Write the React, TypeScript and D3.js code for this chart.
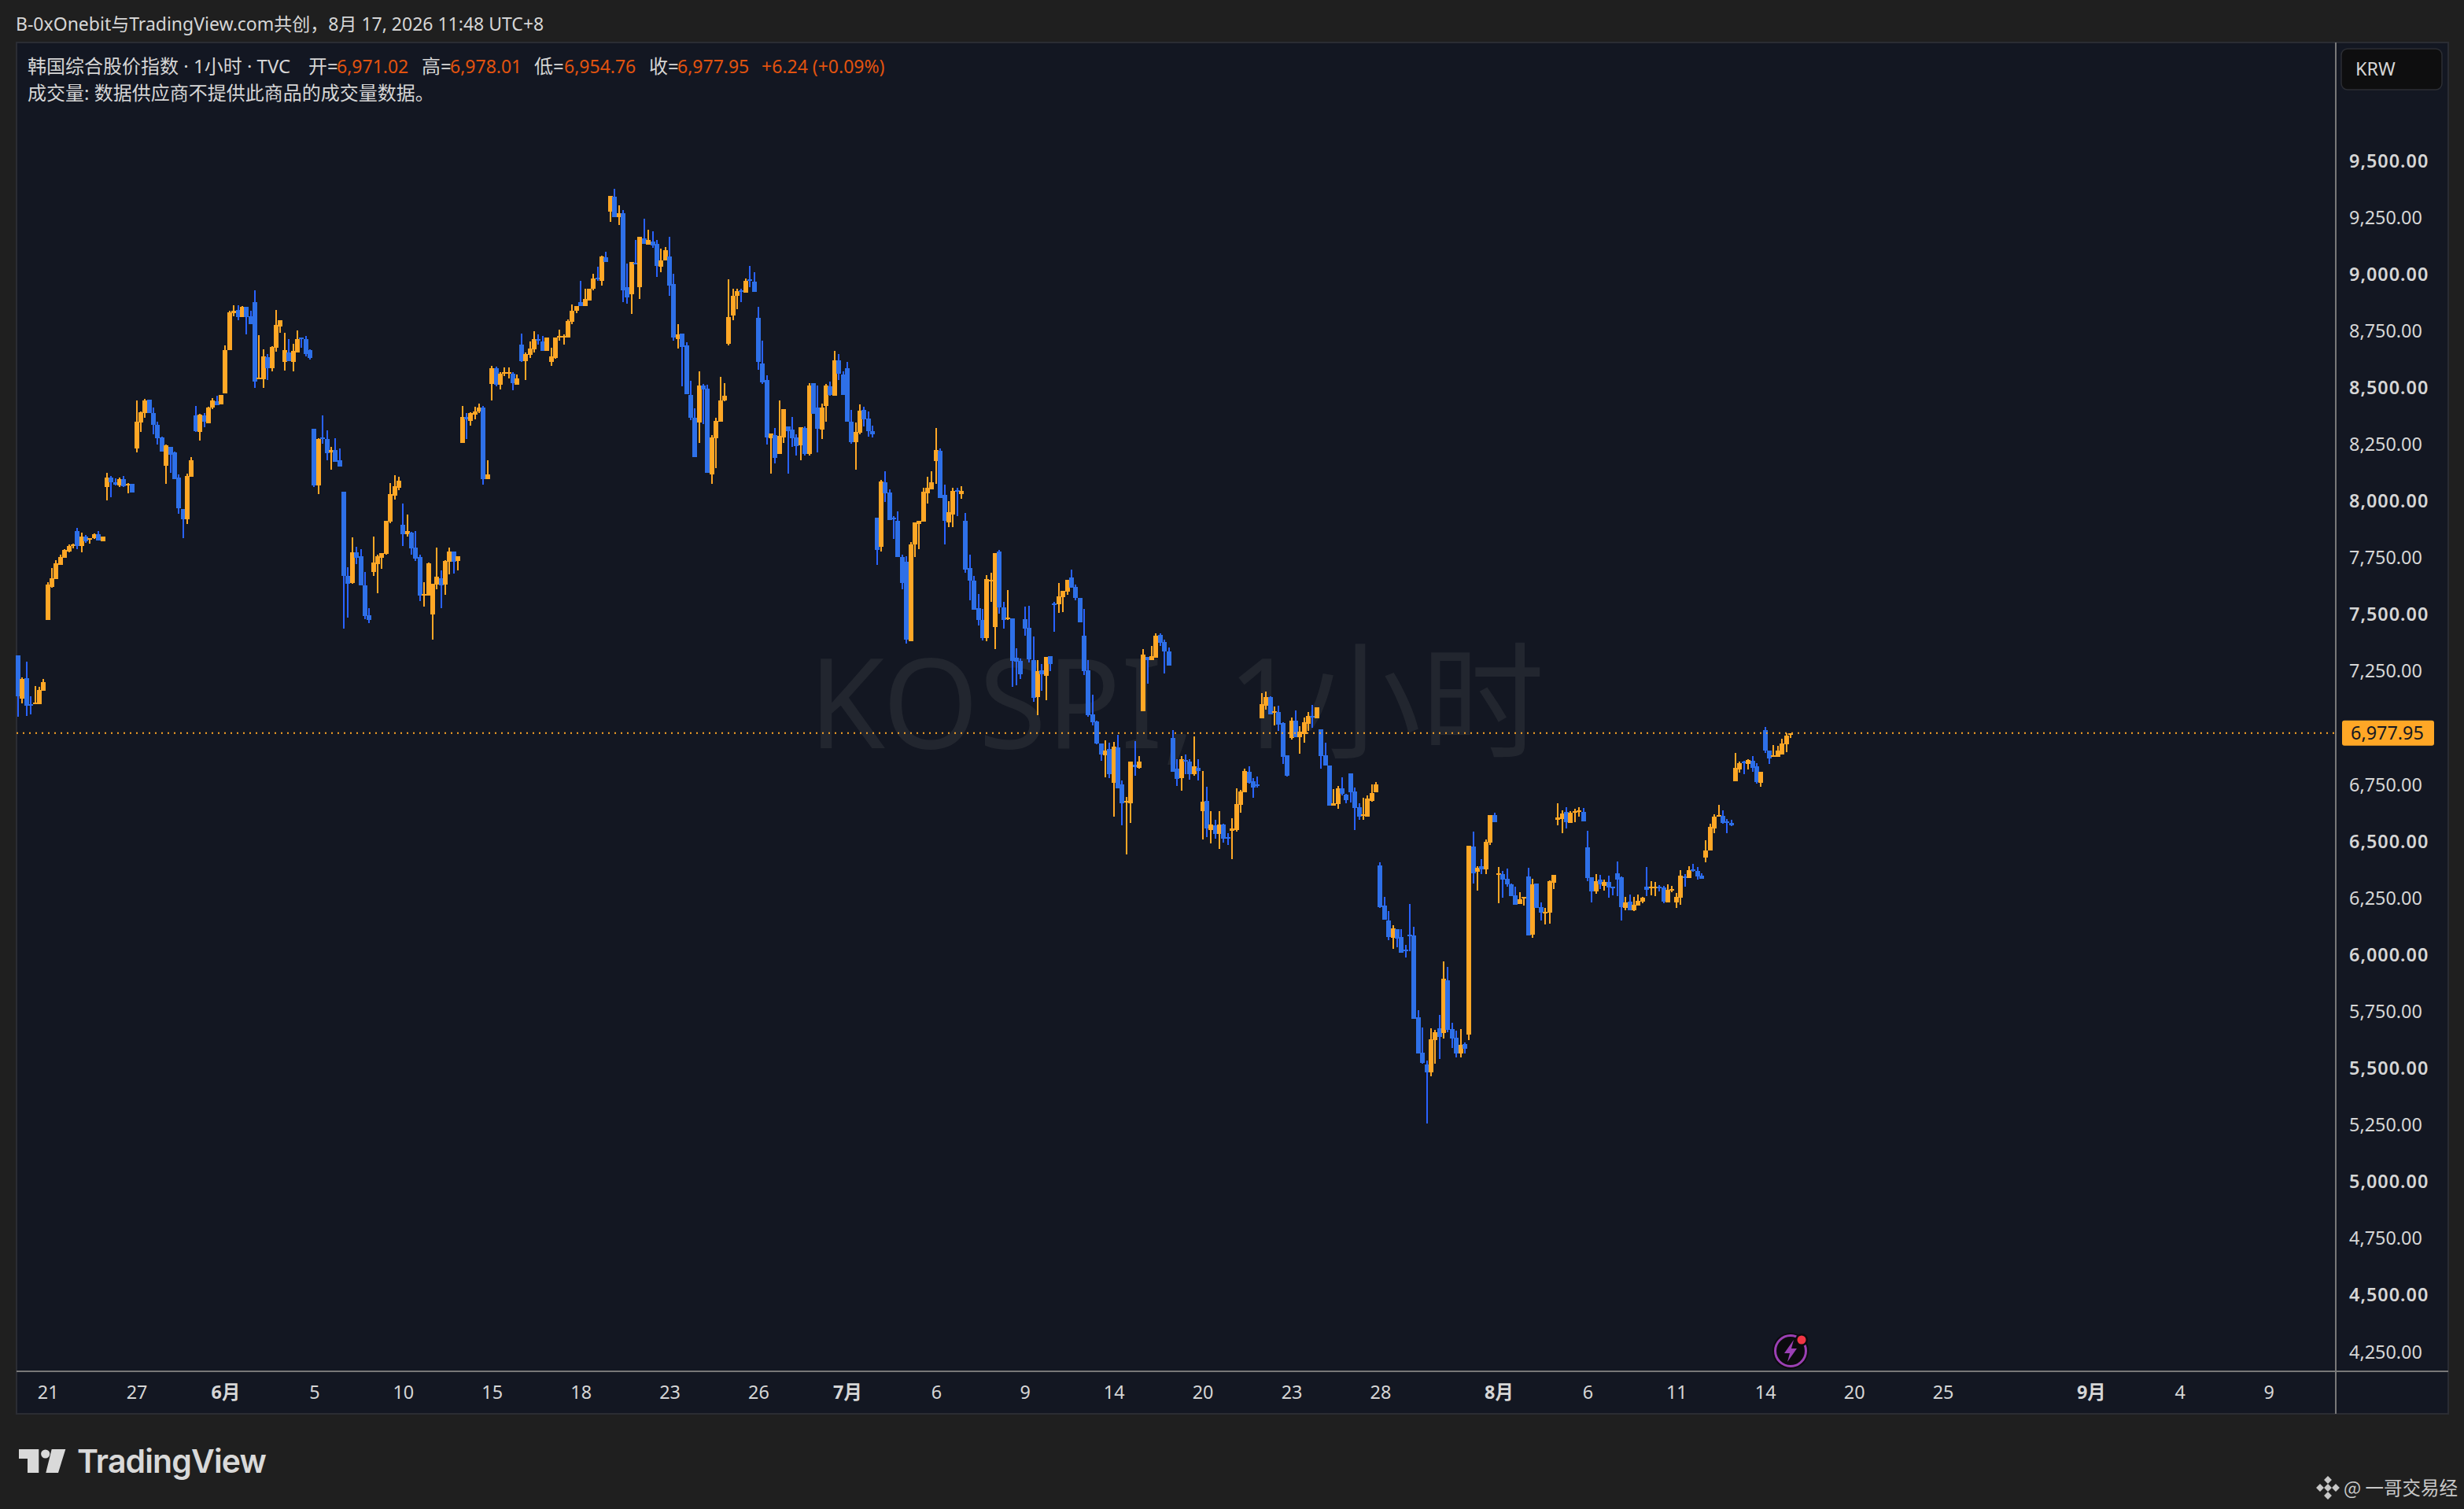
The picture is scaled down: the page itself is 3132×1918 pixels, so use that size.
import { useEffect, useRef } from "react";
import * as d3 from "d3";

// hourly KOSPI bars, one row per session (7 bars)
const opens = [
  7320,7129,7220,7107,7105,7105,7164, 7476,7624,7656,7720,7750,7778,7801,
  7868,7802,7845,7831,7837,7855,7823, 8062,8103,8084,8070,8097,8071,8076,
  8232,8346,8388,8447,8388,8338,8280, 8155,8241,8214,8103,7965,7920,8108,
  8377,8305,8377,8343,8412,8440,8426, 8474,8665,8830,8843,8811,8856,8814,
  8876,8539,8537,8634,8585,8676,8770, 8614,8655,8614,8655,8720,8714,8665,
  8318,8070,8280,8273,8214,8225,8179, 8041,7670,7638,7774,7758,7629,7497,
  7688,7723,7750,7767,7909,8023,8058, 7896,7855,7861,7796,7753,7584,7584,
  7500,7632,7661,7632,7732,7778,7737, 8256,8373,8353,8381,8394,8412,8097,
  8516,8585,8512,8563,8563,8561,8515, 8689,8616,8645,8668,8715,8703,8661,
  8614,8633,8723,8720,8723,8790,8838, 8879,8859,8886,8935,8986,8970,9074,
  9278,9341,9253,9268,8942,8911,9052, 8945,9160,9131,9146,9133,9033,9060,
  9077,8956,8714,8738,8686,8467,8367, 8346,8509,8496,8118,8276,8349,8444,
  8693,8818,8904,8929,8918,8977,8967, 8807,8607,8533,8276,8290,8208,8281,
  8329,8315,8281,8245,8322,8208,8519, 8412,8315,8419,8505,8464,8620,8557,
  8585,8349,8260,8301,8401,8363,8308, 7927,7798,8083,8038,7927,7913,7753,
  7733,7383,7811,7900,7909,8034,8052, 8176,8222,8027,7907,7941,8048,8031,
  7913,7705,7649,7528,7475,7397,7647, 7445,7778,7532,7481,7484,7310,7296,
  7480,7441,7300,7137,7255,7230,7317, 7550,7545,7577,7601,7663,7622,7574,
  7407,7255,7060,7030,6933,6881,6909, 6760,6916,6753,6676,6670,6839,6826,
  7074,7314,7300,7310,7411,7380,7338, 6958,6822,6781,6859,6854,6798,6826,
  6635,6680,6552,6573,6535,6576,6521, 6548,6552,6663,6718,6809,6767,6753,
  7044,7100,7138,7070,7071,7022,6881, 6958,7034,6961,6975,7020,7053,7044,
  6996,6881,6836,6659,6666,6736,6708, 6802,6722,6653,6614,6611,6680,6718,
  6395,6218,6153,6076,6115,6080,6025, 6089,6086,5726,5570,5518,5484,5626,
  5677,5657,5889,5675,5636,5567,5608, 5650,6479,6367,6391,6377,6495,6617,
  6354,6357,6336,6312,6263,6225,6249, 6347,6090,6316,6212,6184,6188,6318,
  6596,6600,6631,6582,6627,6630,6631, 6475,6343,6281,6332,6305,6322,6302,
  6361,6343,6208,6236,6198,6218,6236, 6302,6296,6296,6302,6298,6232,6284,
  6232,6253,6347,6340,6377,6371,6350, 6430,6461,6558,6609,6613,6589,6581,
  6766,6818,6851,6843,6855,6832,6759, 6991,6902,6873,6874,6884,6929,6971.02,
];

const highs = [
  7320,7223,7293,7140,7185,7182,7217, 7643,7705,7740,7764,7788,7809,7813,
  7882,7861,7850,7839,7858,7868,7844, 8124,8111,8100,8103,8111,8081,8076,
  8443,8394,8450,8447,8412,8350,8284, 8249,8241,8218,8117,7965,8120,8194,
  8420,8385,8388,8415,8453,8464,8470, 8688,8840,8865,8862,8859,8856,8838,
  8929,8731,8668,8650,8685,8844,8797, 8741,8714,8693,8752,8720,8727,8671,
  8318,8276,8377,8311,8238,8276,8232, 8041,7708,7841,7799,7788,7688,7529,
  7844,7764,7770,7914,8079,8114,8108, 7990,7941,7864,7868,7764,7643,7729,
  7635,7796,7694,7740,7796,7778,7758, 8420,8388,8391,8415,8429,8420,8179,
  8596,8592,8568,8589,8589,8568,8557, 8740,8657,8703,8748,8734,8727,8720,
  8675,8720,8755,8734,8800,8866,8859, 8970,8938,8935,9001,9033,9081,9099,
  9344,9378,9303,9285,9049,9053,9151, 9164,9246,9197,9188,9151,9112,9120,
  9167,9001,8779,8738,8701,8530,8408, 8571,8516,8512,8293,8367,8548,8519,
  8977,8935,8935,8938,8981,9036,9008, 8856,8709,8555,8297,8322,8444,8405,
  8329,8371,8294,8326,8331,8519,8519, 8509,8431,8516,8526,8661,8648,8571,
  8614,8401,8346,8426,8415,8394,8333, 7927,8093,8131,8052,7934,7955,7764,
  7757,7819,7907,7913,8059,8109,8131, 8322,8231,8072,8000,8059,8059,8065,
  7948,7764,7671,7590,7524,7674,7684, 7771,7785,7556,7608,7484,7351,7307,
  7536,7538,7404,7300,7282,7314,7317, 7556,7640,7604,7654,7699,7633,7574,
  7525,7300,7147,7033,6933,6947,6937, 6940,6972,6770,6698,6854,6944,6878,
  7348,7314,7362,7418,7418,7389,7355, 6992,6864,6878,6885,6864,6965,6864,
  6812,6743,6635,6597,6635,6580,6538, 6604,6736,6729,6822,6833,6781,6788,
  7155,7162,7141,7096,7100,7026,6881, 7048,7079,7010,7048,7072,7103,7093,
  6996,6937,6836,6732,6746,6784,6711, 6802,6739,6670,6694,6704,6753,6763,
  6409,6257,6194,6131,6115,6115,6045, 6225,6125,5757,5681,5535,5677,5670,
  5736,5971,5948,5702,5667,5675,5616, 6481,6544,6391,6424,6509,6617,6627,
  6388,6371,6381,6316,6302,6277,6257, 6385,6336,6316,6232,6208,6330,6353,
  6668,6638,6652,6634,6645,6652,6648, 6548,6343,6357,6353,6332,6350,6302,
  6412,6347,6257,6267,6257,6267,6257, 6388,6326,6322,6308,6305,6312,6305,
  6273,6375,6357,6391,6402,6388,6361, 6506,6579,6621,6662,6638,6599,6596,
  6890,6853,6856,6863,6877,6845,6808, 7006,6902,6926,6922,6953,6976,6978.01,
];

const lows = [
  7050,7109,7054,7059,7105,7105,7164, 7476,7618,7656,7720,7750,7774,7791,
  7788,7774,7817,7812,7834,7826,7823, 8003,8017,8070,8062,8062,8035,8038,
  8214,8305,8367,8388,8294,8249,8218, 8076,8124,8097,7944,7837,7899,8108,
  8305,8267,8326,8343,8405,8423,8426, 8474,8665,8816,8797,8811,8735,8779,
  8499,8539,8499,8533,8571,8658,8741, 8575,8617,8571,8655,8676,8638,8623,
  8062,8031,8253,8182,8138,8173,8152, 7438,7487,7635,7723,7629,7479,7462,
  7670,7594,7702,7764,7904,8006,8049, 7802,7844,7764,7737,7559,7535,7584,
  7390,7611,7529,7588,7678,7681,7694, 8256,8273,8332,8361,8388,8073,8097,
  8445,8505,8492,8550,8540,8489,8512, 8613,8533,8630,8656,8689,8664,8661,
  8598,8627,8709,8689,8723,8779,8829, 8859,8859,8886,8929,8972,8952,9053,
  9230,9253,9216,8877,8870,8825,9046, 8893,9134,9129,9116,8990,9011,9060,
  8904,8707,8672,8505,8471,8357,8194, 8256,8340,8124,8077,8145,8349,8440,
  8686,8797,8845,8877,8918,8942,8922, 8578,8516,8249,8120,8166,8208,8256,
  8120,8238,8201,8179,8201,8201,8385, 8215,8274,8349,8464,8464,8533,8467,
  8349,8253,8138,8294,8328,8283,8281, 7719,7778,7996,7916,7834,7753,7612,
  7372,7383,7753,7789,7909,7989,8052, 8077,8013,7809,7885,7885,7934,8011,
  7685,7563,7522,7453,7386,7383,7556, 7348,7504,7438,7477,7182,7189,7216,
  7407,7289,7116,7058,7164,7123,7251, 7425,7508,7511,7588,7618,7563,7466,
  7234,7051,7012,6929,6857,6784,6781, 6611,6736,6573,6444,6583,6791,6822,
  7074,7196,7300,7310,7363,7241,7275, 6809,6746,6725,6798,6774,6791,6770,
  6510,6521,6493,6514,6469,6497,6486, 6424,6545,6628,6718,6756,6694,6739,
  7044,7082,7062,7013,6989,6843,6788, 6951,6961,6888,6937,6989,7003,7044,
  6822,6836,6659,6659,6646,6704,6670, 6673,6552,6597,6597,6611,6677,6718,
  6208,6156,6066,6027,6035,6011,5990, 6017,5717,5567,5522,5258,5466,5522,
  5543,5632,5661,5591,5548,5550,5567, 5626,6316,6284,6357,6357,6485,6586,
  6229,6253,6302,6259,6222,6225,6218, 6086,6076,6208,6153,6135,6139,6291,
  6572,6538,6558,6582,6586,6611,6589, 6326,6232,6271,6291,6284,6253,6263,
  6259,6153,6198,6198,6194,6218,6229, 6259,6263,6259,6281,6229,6232,6277,
  6208,6222,6302,6340,6367,6332,6336, 6409,6461,6538,6608,6579,6538,6568,
  6766,6804,6796,6818,6809,6756,6741, 6891,6843,6873,6874,6884,6894,6954.76,
];

const closes = [
  7140,7217,7099,7102,7112,7169,7201, 7632,7659,7726,7753,7785,7802,7809,
  7802,7844,7825,7839,7855,7826,7844, 8103,8082,8074,8097,8065,8076,8038,
  8350,8391,8443,8388,8338,8276,8218, 8246,8205,8097,7968,7920,8111,8179,
  8308,8381,8350,8412,8443,8424,8470, 8665,8832,8840,8811,8856,8811,8779,
  8526,8545,8638,8585,8679,8776,8797, 8665,8617,8661,8714,8714,8650,8630,
  8070,8273,8273,8211,8225,8173,8152, 7670,7635,7774,7750,7629,7494,7476,
  7729,7758,7770,7914,8031,8065,8090, 7855,7868,7791,7747,7584,7591,7726,
  7635,7667,7629,7737,7778,7732,7758, 8373,8362,8388,8397,8412,8097,8117,
  8585,8512,8561,8568,8568,8519,8540, 8616,8650,8672,8714,8711,8664,8720,
  8637,8720,8729,8727,8793,8838,8859, 8859,8893,8935,8981,8982,9077,9053,
  9344,9253,9271,8929,8900,9053,9046, 9164,9134,9151,9126,9036,9062,9108,
  8952,8720,8734,8679,8471,8367,8194, 8509,8492,8124,8281,8353,8444,8464,
  8811,8904,8925,8923,8970,8971,8922, 8614,8523,8281,8297,8190,8287,8405,
  8308,8276,8242,8326,8208,8509,8385, 8319,8413,8509,8467,8620,8561,8467,
  8349,8260,8304,8398,8360,8308,8294, 7785,8086,8034,7916,7923,7753,7639,
  7390,7811,7907,7913,8041,8059,8083, 8224,8013,7913,7952,8045,8044,8045,
  7698,7649,7522,7475,7397,7657,7652, 7771,7532,7477,7486,7296,7292,7237,
  7438,7303,7133,7251,7237,7314,7282, 7545,7581,7604,7654,7618,7574,7466,
  7251,7058,7026,6933,6885,6902,6798, 6920,6736,6670,6680,6854,6829,6854,
  7323,7300,7317,7407,7377,7338,7275, 6809,6777,6864,6854,6798,6833,6812,
  6677,6559,6576,6535,6576,6514,6514, 6556,6666,6722,6812,6759,6739,6747,
  7107,7138,7062,7075,7017,6874,6791, 7034,6961,6985,7027,7055,7049,7093,
  6878,6836,6659,6668,6736,6711,6684, 6718,6649,6611,6621,6691,6715,6753,
  6212,6156,6080,6118,6072,6011,6018, 6085,5717,5567,5525,5484,5629,5661,
  5640,5897,5670,5632,5567,5604,5588, 6481,6361,6386,6376,6499,6617,6586,
  6360,6332,6312,6259,6222,6246,6257, 6086,6312,6208,6187,6190,6326,6353,
  6606,6624,6586,6627,6634,6636,6589, 6340,6281,6326,6312,6322,6298,6298,
  6332,6212,6232,6198,6222,6239,6253, 6288,6302,6302,6298,6236,6288,6291,
  6257,6350,6342,6375,6371,6347,6336, 6461,6564,6609,6616,6582,6584,6571,
  6825,6846,6846,6859,6826,6762,6808, 6902,6867,6880,6902,6932,6967,6977.95,
];

const lastPrice = 6977.95;
const priceTicks = d3.range(4250, 9501, 250).filter((p) => p !== 7000);

const timeTickBars = [7, 28, 49, 70, 91, 112, 133, 154, 175, 196, 217, 238, 259, 280, 301, 322, 350, 371, 392, 413, 434, 455, 490, 511, 532];
const timeTickLabels = ["21", "27", "6月", "5", "10", "15", "18", "23", "26", "7月", "6", "9", "14", "20", "23", "28", "8月", "6", "11", "14", "20", "25", "9月", "4", "9"];

const legendHead = "韩国综合股价指数 · 1小时 · TVC";
const legendOhlc = [
  { key: "开=", keyX: 392, value: "6,971.02", valueX: 428 },
  { key: "高=", keyX: 536, value: "6,978.01", valueX: 572 },
  { key: "低=", keyX: 679, value: "6,954.76", valueX: 717 },
  { key: "收=", keyX: 825, value: "6,977.95", valueX: 861 },
];
const legendChange = "+6.24 (+0.09%)";
const volumeNote = "成交量: 数据供应商不提供此商品的成交量数据。";
const shareTitle = "B-0xOnebit与TradingView.com共创，8月 17, 2026 11:48 UTC+8";

const UP = "#ffa726";
const DOWN_BODY = "#2e70e8";
const DOWN_WICK = "#2962ff";
const TEXT = "#d6d6d6";
const FONT = "'Noto Sans', 'Noto Sans CJK SC', sans-serif";
const CJK = "'Noto Sans CJK SC', 'Noto Sans', sans-serif";

const WIDTH = 3132;
const HEIGHT = 1918;
const pane = { left: 21, top: 54, right: 3112, bottom: 1797, axisX: 2969, axisY: 1743 };

export default function App() {
  const svgRef = useRef<SVGSVGElement>(null);

  useEffect(() => {
    if (!svgRef.current) return;
    const svg = d3.select(svgRef.current);
    svg.selectAll("*").remove();

    const x = d3.scaleLinear().domain([0, 419]).range([23, 2276]);
    const y = d3.scaleLinear().domain([4250, 9500]).range([1718.5, 204.5]);

    svg.append("rect").attr("width", WIDTH).attr("height", HEIGHT).attr("fill", "#1f1f1f");

    // Pane
    svg
      .append("rect")
      .attr("x", pane.left)
      .attr("y", pane.top)
      .attr("width", pane.right - pane.left)
      .attr("height", pane.bottom - pane.top)
      .attr("fill", "#131722")
      .attr("stroke", "#2a2c33")
      .attr("stroke-width", 2);

    // Watermark
    svg
      .append("text")
      .attr("x", 1028)
      .attr("y", 951)
      .attr("font-family", FONT)
      .attr("font-size", 160)
      .attr("textLength", 935)
      .attr("lengthAdjust", "spacingAndGlyphs")
      .attr("fill", "#22262f")
      .text("KOSPI, 1小时");

    // Candles
    closes.forEach((close, i) => {
      const open = opens[i];
      const up = close >= open;
      const cx = Math.round(x(i));
      const top = Math.round(y(Math.max(open, close)));
      const bottom = Math.round(y(Math.min(open, close)));
      const wickTop = Math.round(y(highs[i]));
      const wickBottom = Math.round(y(lows[i]));
      svg
        .append("rect")
        .attr("x", cx - 1)
        .attr("y", wickTop)
        .attr("width", 2)
        .attr("height", Math.max(wickBottom - wickTop, 2))
        .attr("fill", up ? UP : DOWN_WICK);
      svg
        .append("rect")
        .attr("x", cx - 3)
        .attr("y", top)
        .attr("width", 6)
        .attr("height", Math.max(bottom - top, 2))
        .attr("fill", up ? UP : DOWN_BODY);
    });

    // Last price line
    svg
      .append("line")
      .attr("x1", pane.left)
      .attr("x2", pane.axisX)
      .attr("y1", y(lastPrice))
      .attr("y2", y(lastPrice))
      .attr("stroke", UP)
      .attr("stroke-width", 2)
      .attr("stroke-dasharray", "2,6");

    // Axis lines
    svg
      .append("line")
      .attr("x1", pane.left)
      .attr("x2", pane.right)
      .attr("y1", pane.axisY)
      .attr("y2", pane.axisY)
      .attr("stroke", "#787878")
      .attr("stroke-width", 2);
    svg
      .append("line")
      .attr("x1", pane.axisX)
      .attr("x2", pane.axisX)
      .attr("y1", pane.top)
      .attr("y2", pane.bottom)
      .attr("stroke", "#787878")
      .attr("stroke-width", 2);

    // Price axis
    const yAxis = svg
      .append("g")
      .attr("transform", `translate(${pane.axisX},0)`)
      .call(
        d3
          .axisRight(y)
          .tickValues(priceTicks)
          .tickSize(0)
          .tickPadding(17)
          .tickFormat((d) => d3.format(",.2f")(d as number))
      );
    yAxis.select(".domain").remove();
    yAxis
      .selectAll<SVGTextElement, number>("text")
      .attr("fill", TEXT)
      .attr("font-family", FONT)
      .attr("font-size", 23.4)
      .attr("font-weight", (d) => (d % 500 === 0 ? 600 : 400))
      .attr("letter-spacing", (d) => (d % 500 === 0 ? 1 : 0));

    // Time axis
    const xAxis = svg
      .append("g")
      .attr("transform", `translate(0,${pane.axisY})`)
      .call(
        d3
          .axisBottom(x)
          .tickValues(timeTickBars)
          .tickSize(0)
          .tickPadding(18)
          .tickFormat((_, i) => timeTickLabels[i])
      );
    xAxis.select(".domain").remove();
    xAxis
      .selectAll<SVGTextElement, number>("text")
      .attr("fill", TEXT)
      .attr("font-family", FONT)
      .attr("font-size", 23.4)
      .attr("font-weight", (_, i) => (timeTickLabels[i].includes("月") ? 700 : 400));

    // Last price label
    svg
      .append("rect")
      .attr("x", 2977)
      .attr("y", y(lastPrice) - 16)
      .attr("width", 117)
      .attr("height", 32)
      .attr("rx", 3)
      .attr("fill", UP);
    svg
      .append("text")
      .attr("x", 2988)
      .attr("y", y(lastPrice))
      .attr("dy", "0.34em")
      .attr("font-family", FONT)
      .attr("font-size", 23.4)
      .attr("fill", "#131722")
      .text(d3.format(",.2f")(lastPrice));

    // Currency button
    svg
      .append("rect")
      .attr("x", 2976)
      .attr("y", 62)
      .attr("width", 128)
      .attr("height", 52)
      .attr("rx", 8)
      .attr("fill", "#0e0e0f")
      .attr("stroke", "#2c2e34")
      .attr("stroke-width", 1.5);
    svg
      .append("text")
      .attr("x", 2994)
      .attr("y", 88)
      .attr("dy", "0.35em")
      .attr("font-family", FONT)
      .attr("font-size", 23.4)
      .attr("fill", TEXT)
      .text("KRW");

    // Header and legend
    const label = (tx: number, ty: number, str: string, fill = TEXT, size = 24) =>
      svg
        .append("text")
        .attr("x", tx)
        .attr("y", ty)
        .attr("dy", "0.35em")
        .attr("font-family", FONT)
        .attr("font-size", size)
        .attr("fill", fill)
        .text(str);

    label(20, 31, shareTitle, TEXT, 23);
    label(35, 85, legendHead);
    legendOhlc.forEach((d) => {
      label(d.keyX, 85, d.key);
      label(d.valueX, 85, d.value, "#e2530f", 23);
    });
    label(968, 85, legendChange, "#e2530f", 23);
    label(35, 119, volumeNote);

    // Alert icon
    const icon = svg.append("g").attr("transform", "translate(2276,1717)");
    icon.append("circle").attr("r", 23).attr("fill", "#0b0b0e");
    icon
      .append("circle")
      .attr("r", 19.5)
      .attr("fill", "none")
      .attr("stroke", "#9b40b4")
      .attr("stroke-width", 3);
    icon
      .append("path")
      .attr("d", "M4,-14 L-8,3 L-1,3 L-4,14 L8,-3 L1,-3 Z")
      .attr("fill", "#9b40b4");
    icon.append("circle").attr("cx", 14).attr("cy", -14).attr("r", 8).attr("fill", "#0b0b0e");
    icon.append("circle").attr("cx", 14).attr("cy", -14).attr("r", 5.5).attr("fill", "#f23645");

    // TradingView logo
    const logo = svg.append("g").attr("fill", "#d9d9d9");
    logo.append("path").attr("d", "M24,1842 H49.3 V1872 H35 V1854 H24 Z");
    logo.append("circle").attr("cx", 57.7).attr("cy", 1848).attr("r", 5.6);
    logo.append("path").attr("d", "M65.7,1842 H83.3 L74,1872 H58.3 Z");
    logo
      .append("text")
      .attr("x", 98)
      .attr("y", 1872)
      .attr("font-family", "Inter, sans-serif")
      .attr("font-size", 41)
      .attr("font-weight", 600)
      .attr("textLength", 241)
      .text("TradingView");

    // Post credit
    const mark = svg.append("g").attr("transform", "translate(2959,1891)").attr("fill", "#c8c8c8");
    [
      [0, -10],
      [-10, 0],
      [10, 0],
      [0, 10],
      [0, 0],
    ].forEach(([dx, dy]) => {
      mark
        .append("rect")
        .attr("x", dx - 3.5)
        .attr("y", dy - 3.5)
        .attr("width", 7)
        .attr("height", 7)
        .attr("transform", `rotate(45 ${dx} ${dy})`);
    });
    svg
      .append("text")
      .attr("x", 2979)
      .attr("y", 1892)
      .attr("dy", "0.35em")
      .attr("font-family", CJK)
      .attr("font-size", 23.5)
      .attr("fill", "#c8c8c8")
      .text("@ 一哥交易经");
  }, []);

  return (
    <svg
      ref={svgRef}
      width={WIDTH}
      height={HEIGHT}
      style={{ position: "absolute", left: 0, top: 0, display: "block" }}
    />
  );
}
